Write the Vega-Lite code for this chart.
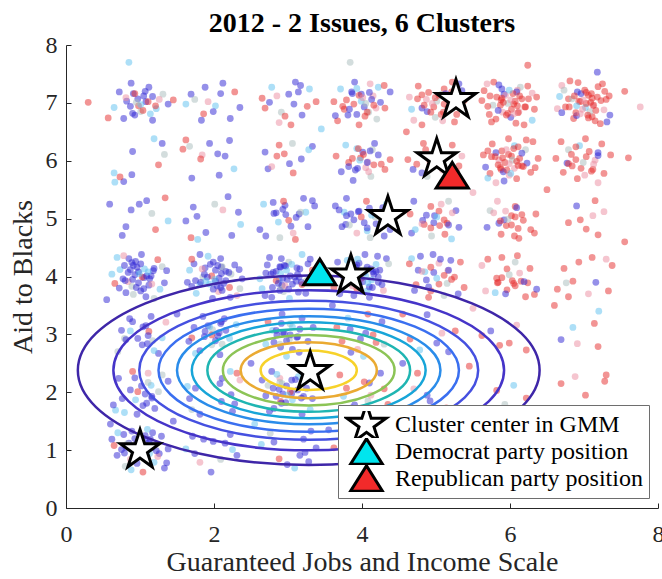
{
"$schema": "https://vega.github.io/schema/vega-lite/v6.json",
"width": 592, "height": 463,
"autosize": "none",
"padding": {"left": 66, "top": 45, "right": 4, "bottom": 71},
"background": "white",
"title": {"text": "2012 - 2 Issues, 6 Clusters", "font": "Liberation Serif", "fontSize": 28, "fontWeight": "bold", "color": "black", "anchor": "middle", "frame": "group", "offset": -5},
"config": {
  "view": {"stroke": null},
  "axis": {"labelFont": "Liberation Serif", "labelFontSize": 24, "labelColor": "#262626", "titleFont": "Liberation Serif", "titleFontSize": 28, "titleFontWeight": "normal", "titleColor": "#262626", "domainColor": "#262626", "tickColor": "#262626", "tickSize": -5, "grid": false, "labelFlush": false, "labelOverlap": false, "labelBound": false},
  "legend": {"symbolStrokeWidth": 3}
},
"encoding": {
  "x": {"field": "x", "type": "quantitative", "scale": {"domain": [0, 8], "nice": false, "zero": false}, "axis": {"values": [0, 2, 4, 6, 8], "title": "Guaranteed Jobs and Income Scale", "labelPadding": 19, "titlePadding": 2}},
  "y": {"field": "y", "type": "quantitative", "scale": {"domain": [0, 8], "nice": false, "zero": false}, "axis": {"values": [0, 1, 2, 3, 4, 5, 6, 7, 8], "title": "Aid to Blacks", "labelPadding": 14, "titlePadding": 8}}
},
"layer": [
{
"data": {"values": [
{"x":1.05,"y":7.12,"c":"B"},{"x":0.82,"y":7.03,"c":"B"},{"x":1.22,"y":6.90,"c":"L"},{"x":0.93,"y":6.79,"c":"B"},{"x":1.31,"y":7.15,"c":"G"},{"x":0.72,"y":7.19,"c":"B"},{"x":1.12,"y":7.27,"c":"B"},{"x":0.98,"y":6.95,"c":"R"},{"x":1.17,"y":6.70,"c":"B"},{"x":0.65,"y":6.92,"c":"L"},{"x":1.08,"y":7.02,"c":"B"},{"x":0.88,"y":7.34,"c":"B"},{"x":1.26,"y":7.06,"c":"P"},{"x":0.78,"y":6.73,"c":"B"},{"x":1.01,"y":6.85,"c":"G"},{"x":1.38,"y":6.98,"c":"B"},{"x":0.91,"y":7.16,"c":"B"},{"x":1.14,"y":6.81,"c":"L"},
{"x":1.69,"y":7.15,"c":"B"},{"x":2.28,"y":7.19,"c":"R"},{"x":1.88,"y":7.27,"c":"B"},{"x":2.02,"y":6.95,"c":"L"},{"x":1.83,"y":6.70,"c":"B"},{"x":2.35,"y":6.92,"c":"B"},{"x":1.92,"y":7.02,"c":"P"},{"x":2.12,"y":7.34,"c":"B"},{"x":1.74,"y":7.06,"c":"G"},{"x":2.22,"y":6.73,"c":"B"},{"x":1.99,"y":6.85,"c":"B"},{"x":1.62,"y":6.98,"c":"L"},{"x":2.09,"y":7.16,"c":"B"},{"x":1.86,"y":6.81,"c":"R"},
{"x":3.17,"y":7.30,"c":"B"},{"x":2.65,"y":7.08,"c":"R"},{"x":3.08,"y":6.98,"c":"B"},{"x":2.88,"y":6.66,"c":"P"},{"x":3.26,"y":6.94,"c":"R"},{"x":2.78,"y":7.27,"c":"L"},{"x":3.01,"y":7.15,"c":"B"},{"x":3.38,"y":7.02,"c":"R"},{"x":2.91,"y":6.84,"c":"G"},{"x":3.14,"y":7.19,"c":"B"},{"x":2.69,"y":6.91,"c":"R"},{"x":3.19,"y":6.79,"c":"B"},{"x":2.85,"y":7.12,"c":"P"},{"x":3.04,"y":6.62,"c":"R"},{"x":2.75,"y":7.01,"c":"B"},{"x":3.29,"y":7.24,"c":"L"},{"x":2.96,"y":6.77,"c":"R"},{"x":3.10,"y":7.36,"c":"B"},
{"x":3.74,"y":6.94,"c":"R"},{"x":4.22,"y":7.27,"c":"L"},{"x":3.99,"y":7.15,"c":"B"},{"x":3.62,"y":7.02,"c":"R"},{"x":4.09,"y":6.84,"c":"G"},{"x":3.86,"y":7.19,"c":"B"},{"x":4.31,"y":6.91,"c":"R"},{"x":3.81,"y":6.79,"c":"B"},{"x":4.15,"y":7.12,"c":"P"},{"x":3.96,"y":6.62,"c":"R"},{"x":4.25,"y":7.01,"c":"B"},{"x":3.71,"y":7.24,"c":"L"},{"x":4.04,"y":6.77,"c":"R"},{"x":3.90,"y":7.36,"c":"B"},{"x":4.20,"y":6.72,"c":"G"},{"x":3.67,"y":6.69,"c":"R"},{"x":4.38,"y":7.19,"c":"B"},{"x":3.76,"y":6.89,"c":"R"},{"x":4.11,"y":7.33,"c":"P"},{"x":3.64,"y":6.78,"c":"B"},{"x":4.30,"y":7.30,"c":"R"},{"x":3.93,"y":7.25,"c":"L"},
{"x":5.16,"y":6.91,"c":"R"},{"x":4.81,"y":7.14,"c":"R"},{"x":5.09,"y":6.69,"c":"P"},{"x":5.21,"y":7.19,"c":"R"},{"x":4.88,"y":6.85,"c":"B"},{"x":5.38,"y":7.04,"c":"R"},{"x":4.99,"y":6.75,"c":"G"},{"x":4.76,"y":7.29,"c":"R"},{"x":5.23,"y":6.96,"c":"R"},{"x":4.64,"y":7.10,"c":"P"},{"x":5.28,"y":6.80,"c":"R"},{"x":5.31,"y":7.33,"c":"B"},{"x":4.81,"y":6.62,"c":"R"},{"x":5.11,"y":7.24,"c":"R"},{"x":4.67,"y":6.89,"c":"L"},{"x":5.22,"y":7.36,"c":"R"},{"x":4.70,"y":6.70,"c":"P"},{"x":4.75,"y":7.07,"c":"R"},{"x":5.10,"y":6.84,"c":"R"},{"x":5.35,"y":7.21,"c":"B"},{"x":5.25,"y":6.67,"c":"R"},{"x":5.08,"y":7.15,"c":"G"},
{"x":6.12,"y":6.85,"c":"P"},{"x":5.62,"y":7.04,"c":"R"},{"x":6.01,"y":6.75,"c":"B"},{"x":6.24,"y":7.29,"c":"R"},{"x":5.77,"y":6.96,"c":"G"},{"x":6.36,"y":7.10,"c":"R"},{"x":5.72,"y":6.80,"c":"R"},{"x":5.69,"y":7.33,"c":"P"},{"x":6.19,"y":6.62,"c":"R"},{"x":5.89,"y":7.24,"c":"B"},{"x":6.33,"y":6.89,"c":"R"},{"x":5.78,"y":7.36,"c":"R"},{"x":6.30,"y":6.70,"c":"L"},{"x":6.25,"y":7.07,"c":"R"},{"x":5.90,"y":6.84,"c":"P"},{"x":5.65,"y":7.21,"c":"R"},{"x":5.75,"y":6.67,"c":"R"},{"x":5.92,"y":7.15,"c":"B"},{"x":5.70,"y":6.94,"c":"R"},{"x":6.14,"y":7.27,"c":"G"},{"x":5.88,"y":7.05,"c":"R"},{"x":5.97,"y":6.82,"c":"R"},{"x":6.10,"y":7.22,"c":"P"},{"x":6.21,"y":6.93,"c":"R"},{"x":5.85,"y":7.31,"c":"B"},{"x":5.81,"y":6.72,"c":"R"},{"x":5.73,"y":7.12,"c":"R"},{"x":6.05,"y":6.98,"c":"R"},{"x":6.30,"y":7.17,"c":"P"},{"x":6.08,"y":6.65,"c":"R"},
{"x":7.23,"y":7.04,"c":"R"},{"x":6.64,"y":6.90,"c":"P"},{"x":7.28,"y":7.20,"c":"R"},{"x":7.31,"y":6.67,"c":"B"},{"x":6.81,"y":7.38,"c":"R"},{"x":7.11,"y":6.76,"c":"R"},{"x":6.67,"y":7.11,"c":"L"},{"x":7.22,"y":6.64,"c":"R"},{"x":6.70,"y":7.30,"c":"P"},{"x":6.75,"y":6.93,"c":"R"},{"x":7.10,"y":7.16,"c":"R"},{"x":7.35,"y":6.79,"c":"B"},{"x":7.25,"y":7.33,"c":"R"},{"x":7.08,"y":6.85,"c":"G"},{"x":7.30,"y":7.06,"c":"R"},{"x":6.86,"y":6.73,"c":"R"},{"x":7.12,"y":6.95,"c":"P"},{"x":7.03,"y":7.18,"c":"R"},{"x":6.90,"y":6.78,"c":"B"},{"x":6.79,"y":7.07,"c":"R"},{"x":7.15,"y":6.69,"c":"R"},{"x":7.19,"y":7.28,"c":"R"},{"x":7.27,"y":6.88,"c":"P"},{"x":6.95,"y":7.02,"c":"R"},{"x":6.70,"y":6.83,"c":"B"},{"x":6.92,"y":7.35,"c":"R"},{"x":7.02,"y":6.92,"c":"L"},{"x":7.34,"y":7.12,"c":"R"},{"x":7.06,"y":6.74,"c":"R"},{"x":6.73,"y":7.22,"c":"G"},
{"x":1.19,"y":6.38,"c":"L"},{"x":0.89,"y":5.76,"c":"B"},{"x":1.33,"y":6.11,"c":"G"},{"x":0.78,"y":5.64,"c":"B"},{"x":1.30,"y":6.30,"c":"B"},{"x":1.25,"y":5.93,"c":"R"},{"x":0.90,"y":6.16,"c":"B"},{"x":0.65,"y":5.79,"c":"L"},
{"x":1.70,"y":5.70,"c":"B"},{"x":2.07,"y":5.75,"c":"B"},{"x":1.84,"y":6.10,"c":"P"},{"x":2.21,"y":6.35,"c":"B"},{"x":1.67,"y":6.25,"c":"G"},{"x":2.15,"y":6.08,"c":"B"},{"x":1.94,"y":6.30,"c":"B"},{"x":2.27,"y":5.86,"c":"L"},{"x":2.05,"y":6.12,"c":"B"},{"x":1.82,"y":6.03,"c":"R"},
{"x":3.33,"y":6.25,"c":"B"},{"x":2.85,"y":6.08,"c":"R"},{"x":3.06,"y":6.30,"c":"G"},{"x":2.73,"y":5.86,"c":"B"},{"x":2.95,"y":6.12,"c":"R"},{"x":3.18,"y":6.03,"c":"B"},{"x":2.78,"y":5.90,"c":"P"},{"x":3.07,"y":5.79,"c":"R"},{"x":2.69,"y":6.15,"c":"B"},{"x":3.28,"y":6.19,"c":"L"},{"x":2.88,"y":6.27,"c":"R"},{"x":3.02,"y":5.95,"c":"B"},
{"x":4.05,"y":5.88,"c":"P"},{"x":3.82,"y":5.97,"c":"R"},{"x":4.22,"y":6.10,"c":"B"},{"x":3.93,"y":6.21,"c":"L"},{"x":4.31,"y":5.85,"c":"R"},{"x":3.72,"y":5.81,"c":"B"},{"x":4.12,"y":5.73,"c":"G"},{"x":3.98,"y":6.05,"c":"R"},{"x":4.17,"y":6.30,"c":"B"},{"x":3.65,"y":6.08,"c":"R"},{"x":4.08,"y":5.98,"c":"P"},{"x":3.88,"y":5.66,"c":"B"},{"x":4.26,"y":5.94,"c":"R"},{"x":3.78,"y":6.27,"c":"L"},{"x":4.01,"y":6.15,"c":"B"},{"x":4.38,"y":6.02,"c":"R"},{"x":3.91,"y":5.84,"c":"B"},{"x":4.14,"y":6.19,"c":"G"},
{"x":4.69,"y":5.85,"c":"B"},{"x":5.28,"y":5.81,"c":"R"},{"x":4.88,"y":5.73,"c":"G"},{"x":5.02,"y":6.05,"c":"R"},{"x":4.83,"y":6.30,"c":"R"},{"x":5.35,"y":6.08,"c":"P"},{"x":4.92,"y":5.98,"c":"R"},{"x":5.12,"y":5.66,"c":"B"},{"x":4.74,"y":5.94,"c":"R"},{"x":5.22,"y":6.27,"c":"R"},{"x":4.99,"y":6.15,"c":"L"},{"x":4.62,"y":6.02,"c":"R"},{"x":5.09,"y":5.84,"c":"P"},{"x":4.86,"y":6.19,"c":"R"},{"x":5.31,"y":5.91,"c":"R"},{"x":4.81,"y":5.79,"c":"B"},
{"x":5.70,"y":6.17,"c":"R"},{"x":5.92,"y":5.65,"c":"B"},{"x":6.02,"y":6.08,"c":"R"},{"x":6.34,"y":5.88,"c":"R"},{"x":6.06,"y":6.26,"c":"L"},{"x":5.73,"y":5.78,"c":"R"},{"x":5.85,"y":6.01,"c":"P"},{"x":5.98,"y":6.38,"c":"R"},{"x":6.16,"y":5.91,"c":"R"},{"x":5.81,"y":6.14,"c":"B"},{"x":6.09,"y":5.69,"c":"R"},{"x":6.21,"y":6.19,"c":"G"},{"x":5.88,"y":5.85,"c":"R"},{"x":6.38,"y":6.04,"c":"R"},{"x":5.99,"y":5.75,"c":"P"},{"x":5.76,"y":6.29,"c":"R"},{"x":6.23,"y":5.96,"c":"B"},{"x":5.64,"y":6.10,"c":"R"},{"x":6.28,"y":5.80,"c":"R"},{"x":6.31,"y":6.33,"c":"R"},{"x":5.81,"y":5.62,"c":"P"},{"x":6.11,"y":6.24,"c":"R"},{"x":5.67,"y":5.89,"c":"B"},{"x":6.22,"y":6.36,"c":"R"},{"x":5.70,"y":5.70,"c":"L"},{"x":5.75,"y":6.07,"c":"R"},
{"x":6.94,"y":6.26,"c":"L"},{"x":7.27,"y":5.78,"c":"R"},{"x":7.15,"y":6.01,"c":"P"},{"x":7.02,"y":6.38,"c":"R"},{"x":6.84,"y":5.91,"c":"R"},{"x":7.19,"y":6.14,"c":"B"},{"x":6.91,"y":5.69,"c":"R"},{"x":6.79,"y":6.19,"c":"G"},{"x":7.12,"y":5.85,"c":"R"},{"x":6.62,"y":6.04,"c":"R"},{"x":7.01,"y":5.75,"c":"P"},{"x":7.24,"y":6.29,"c":"R"},{"x":6.77,"y":5.96,"c":"B"},{"x":7.36,"y":6.10,"c":"R"},{"x":6.72,"y":5.80,"c":"R"},{"x":6.69,"y":6.33,"c":"R"},{"x":7.19,"y":5.62,"c":"P"},{"x":6.89,"y":6.24,"c":"R"},
{"x":1.16,"y":5.09,"c":"G"},{"x":0.81,"y":4.86,"c":"B"},{"x":1.09,"y":5.31,"c":"B"},{"x":1.21,"y":4.81,"c":"R"},{"x":0.88,"y":5.15,"c":"B"},{"x":1.38,"y":4.96,"c":"L"},{"x":0.99,"y":5.25,"c":"B"},{"x":0.76,"y":4.71,"c":"B"},
{"x":2.12,"y":5.15,"c":"P"},{"x":1.62,"y":4.96,"c":"B"},{"x":2.01,"y":5.25,"c":"G"},{"x":2.24,"y":4.71,"c":"B"},{"x":1.77,"y":5.04,"c":"B"},{"x":2.36,"y":4.90,"c":"L"},{"x":1.72,"y":5.20,"c":"B"},{"x":1.69,"y":4.67,"c":"R"},{"x":2.19,"y":5.38,"c":"B"},{"x":1.89,"y":4.76,"c":"B"},{"x":2.33,"y":5.11,"c":"B"},{"x":1.78,"y":4.64,"c":"L"},
{"x":2.96,"y":5.23,"c":"B"},{"x":3.10,"y":4.64,"c":"R"},{"x":2.80,"y":5.28,"c":"B"},{"x":3.33,"y":5.31,"c":"B"},{"x":2.62,"y":4.81,"c":"B"},{"x":3.24,"y":5.11,"c":"L"},{"x":2.89,"y":4.67,"c":"G"},{"x":3.36,"y":5.22,"c":"B"},{"x":2.70,"y":4.70,"c":"B"},{"x":3.07,"y":4.75,"c":"P"},{"x":2.84,"y":5.10,"c":"B"},{"x":3.21,"y":5.35,"c":"B"},{"x":2.67,"y":5.25,"c":"L"},{"x":3.15,"y":5.08,"c":"B"},{"x":2.94,"y":5.30,"c":"R"},{"x":3.27,"y":4.86,"c":"B"},
{"x":4.38,"y":4.81,"c":"B"},{"x":3.76,"y":5.11,"c":"L"},{"x":4.11,"y":4.67,"c":"G"},{"x":3.64,"y":5.22,"c":"B"},{"x":4.30,"y":4.70,"c":"B"},{"x":3.93,"y":4.75,"c":"P"},{"x":4.16,"y":5.10,"c":"B"},{"x":3.79,"y":5.35,"c":"B"},{"x":4.33,"y":5.25,"c":"L"},{"x":3.85,"y":5.08,"c":"B"},{"x":4.06,"y":5.30,"c":"R"},{"x":3.73,"y":4.86,"c":"B"},{"x":3.95,"y":5.12,"c":"B"},{"x":4.18,"y":5.03,"c":"G"},{"x":3.78,"y":4.90,"c":"B"},{"x":4.07,"y":4.79,"c":"L"},{"x":3.69,"y":5.15,"c":"B"},{"x":4.28,"y":5.19,"c":"B"},
{"x":4.70,"y":5.30,"c":"B"},{"x":5.07,"y":5.25,"c":"P"},{"x":4.84,"y":4.90,"c":"R"},{"x":5.21,"y":4.65,"c":"L"},{"x":4.67,"y":4.75,"c":"B"},{"x":5.15,"y":4.92,"c":"R"},{"x":4.94,"y":4.70,"c":"G"},{"x":5.27,"y":5.14,"c":"B"},{"x":5.05,"y":4.88,"c":"R"},{"x":4.82,"y":4.97,"c":"B"},{"x":5.22,"y":5.10,"c":"P"},{"x":4.93,"y":5.21,"c":"R"},{"x":5.31,"y":4.85,"c":"B"},{"x":4.72,"y":4.81,"c":"L"},{"x":5.12,"y":4.73,"c":"R"},{"x":4.98,"y":5.05,"c":"B"},{"x":5.17,"y":5.30,"c":"G"},{"x":4.65,"y":5.08,"c":"R"},
{"x":6.33,"y":4.75,"c":"R"},{"x":5.85,"y":4.92,"c":"B"},{"x":6.06,"y":4.70,"c":"R"},{"x":5.73,"y":5.14,"c":"G"},{"x":5.95,"y":4.88,"c":"R"},{"x":6.18,"y":4.97,"c":"R"},{"x":5.78,"y":5.10,"c":"P"},{"x":6.07,"y":5.21,"c":"R"},{"x":5.69,"y":4.85,"c":"B"},{"x":6.28,"y":4.81,"c":"R"},{"x":5.88,"y":4.73,"c":"R"},{"x":6.02,"y":5.05,"c":"R"},{"x":5.83,"y":5.30,"c":"P"},{"x":6.35,"y":5.08,"c":"R"},{"x":5.92,"y":4.98,"c":"B"},{"x":6.12,"y":4.66,"c":"R"},
{"x":7.12,"y":5.05,"c":"P"},{"x":7.03,"y":4.82,"c":"R"},{"x":6.90,"y":5.22,"c":"B"},{"x":6.79,"y":4.93,"c":"R"},{"x":7.15,"y":5.31,"c":"R"},{"x":7.19,"y":4.72,"c":"R"},{"x":7.27,"y":5.12,"c":"P"},{"x":6.95,"y":4.98,"c":"R"},
{"x":0.85,"y":4.31,"c":"B"},{"x":0.81,"y":3.72,"c":"B"},{"x":0.73,"y":4.12,"c":"L"},{"x":1.05,"y":3.98,"c":"B"},{"x":1.30,"y":4.17,"c":"G"},{"x":1.08,"y":3.65,"c":"B"},{"x":0.98,"y":4.08,"c":"B"},{"x":0.66,"y":3.88,"c":"R"},{"x":0.94,"y":4.26,"c":"B"},{"x":1.27,"y":3.78,"c":"L"},{"x":1.15,"y":4.01,"c":"B"},{"x":1.02,"y":4.38,"c":"B"},{"x":0.84,"y":3.91,"c":"P"},{"x":1.19,"y":4.14,"c":"B"},{"x":0.91,"y":3.69,"c":"G"},{"x":0.79,"y":4.19,"c":"B"},{"x":1.12,"y":3.85,"c":"B"},{"x":0.62,"y":4.04,"c":"L"},{"x":1.01,"y":3.75,"c":"B"},{"x":1.24,"y":4.29,"c":"R"},{"x":0.77,"y":3.96,"c":"B"},{"x":1.36,"y":4.10,"c":"B"},{"x":0.72,"y":3.80,"c":"B"},{"x":0.69,"y":4.33,"c":"L"},{"x":1.19,"y":3.62,"c":"G"},{"x":0.89,"y":4.24,"c":"B"},{"x":1.33,"y":3.89,"c":"B"},{"x":0.78,"y":4.36,"c":"P"},
{"x":1.70,"y":3.83,"c":"B"},{"x":1.92,"y":4.35,"c":"L"},{"x":2.02,"y":3.92,"c":"B"},{"x":2.34,"y":4.12,"c":"B"},{"x":2.06,"y":3.74,"c":"P"},{"x":1.73,"y":4.22,"c":"B"},{"x":1.85,"y":3.99,"c":"G"},{"x":1.98,"y":3.62,"c":"B"},{"x":2.16,"y":4.09,"c":"B"},{"x":1.81,"y":3.86,"c":"L"},{"x":2.09,"y":4.31,"c":"B"},{"x":2.21,"y":3.81,"c":"R"},{"x":1.88,"y":4.15,"c":"B"},{"x":2.38,"y":3.96,"c":"B"},{"x":1.99,"y":4.25,"c":"B"},{"x":1.76,"y":3.71,"c":"L"},{"x":2.23,"y":4.04,"c":"G"},{"x":1.64,"y":3.90,"c":"B"},{"x":2.28,"y":4.20,"c":"B"},{"x":2.31,"y":3.67,"c":"P"},{"x":1.81,"y":4.38,"c":"B"},{"x":2.11,"y":3.76,"c":"B"},{"x":1.67,"y":4.11,"c":"L"},{"x":2.22,"y":3.64,"c":"B"},{"x":1.70,"y":4.30,"c":"R"},{"x":1.75,"y":3.93,"c":"B"},{"x":2.10,"y":4.16,"c":"B"},{"x":2.35,"y":3.79,"c":"G"},
{"x":2.94,"y":3.74,"c":"G"},{"x":3.27,"y":4.22,"c":"B"},{"x":3.15,"y":3.99,"c":"B"},{"x":3.02,"y":3.62,"c":"L"},{"x":2.84,"y":4.09,"c":"B"},{"x":3.19,"y":3.86,"c":"R"},{"x":2.91,"y":4.31,"c":"B"},{"x":2.79,"y":3.81,"c":"B"},{"x":3.12,"y":4.15,"c":"B"},{"x":2.62,"y":3.96,"c":"L"},{"x":3.01,"y":4.25,"c":"G"},{"x":3.24,"y":3.71,"c":"B"},{"x":2.77,"y":4.04,"c":"B"},{"x":3.36,"y":3.90,"c":"P"},{"x":2.72,"y":4.20,"c":"B"},{"x":2.69,"y":3.67,"c":"B"},{"x":3.19,"y":4.38,"c":"L"},{"x":2.89,"y":3.76,"c":"B"},{"x":3.33,"y":4.11,"c":"R"},{"x":2.78,"y":3.64,"c":"B"},{"x":3.30,"y":4.30,"c":"B"},{"x":3.25,"y":3.93,"c":"G"},{"x":2.90,"y":4.16,"c":"B"},{"x":2.65,"y":3.79,"c":"L"},{"x":2.75,"y":4.33,"c":"B"},{"x":2.92,"y":3.85,"c":"B"},{"x":2.70,"y":4.06,"c":"B"},{"x":3.14,"y":3.73,"c":"B"},{"x":2.88,"y":3.95,"c":"L"},{"x":2.97,"y":4.18,"c":"B"},
{"x":3.91,"y":4.16,"c":"B"},{"x":4.14,"y":3.81,"c":"B"},{"x":3.69,"y":4.09,"c":"B"},{"x":4.19,"y":4.21,"c":"L"},{"x":3.85,"y":3.88,"c":"G"},{"x":4.04,"y":4.38,"c":"B"},{"x":3.75,"y":3.99,"c":"B"},{"x":4.29,"y":3.76,"c":"P"},{"x":3.96,"y":4.23,"c":"B"},{"x":4.10,"y":3.64,"c":"B"},{"x":3.80,"y":4.28,"c":"L"},{"x":4.33,"y":4.31,"c":"B"},{"x":3.62,"y":3.81,"c":"R"},{"x":4.24,"y":4.11,"c":"B"},{"x":3.89,"y":3.67,"c":"B"},{"x":4.36,"y":4.22,"c":"G"},{"x":3.70,"y":3.70,"c":"B"},{"x":4.07,"y":3.75,"c":"L"},{"x":3.84,"y":4.10,"c":"B"},{"x":4.21,"y":4.35,"c":"B"},{"x":3.67,"y":4.25,"c":"B"},{"x":4.15,"y":4.08,"c":"B"},{"x":3.94,"y":4.30,"c":"L"},{"x":4.27,"y":3.86,"c":"B"},{"x":4.05,"y":4.12,"c":"G"},{"x":3.82,"y":4.03,"c":"B"},{"x":4.22,"y":3.90,"c":"B"},{"x":3.93,"y":3.79,"c":"R"},
{"x":5.15,"y":3.88,"c":"G"},{"x":4.96,"y":4.38,"c":"B"},{"x":5.25,"y":3.99,"c":"R"},{"x":4.71,"y":3.76,"c":"B"},{"x":5.04,"y":4.23,"c":"P"},{"x":4.90,"y":3.64,"c":"R"},{"x":5.20,"y":4.28,"c":"B"},{"x":4.67,"y":4.31,"c":"L"},{"x":5.38,"y":3.81,"c":"R"},{"x":4.76,"y":4.11,"c":"B"},{"x":5.11,"y":3.67,"c":"G"},{"x":4.64,"y":4.22,"c":"R"},{"x":5.30,"y":3.70,"c":"B"},{"x":4.93,"y":3.75,"c":"R"},{"x":5.16,"y":4.10,"c":"P"},{"x":4.79,"y":4.35,"c":"B"},{"x":5.33,"y":4.25,"c":"R"},{"x":4.85,"y":4.08,"c":"L"},{"x":5.06,"y":4.30,"c":"B"},{"x":4.73,"y":3.86,"c":"R"},
{"x":5.96,"y":3.77,"c":"R"},{"x":6.10,"y":4.36,"c":"R"},{"x":5.80,"y":3.72,"c":"L"},{"x":6.33,"y":3.69,"c":"R"},{"x":5.62,"y":4.19,"c":"P"},{"x":6.24,"y":3.89,"c":"R"},{"x":5.89,"y":4.33,"c":"R"},{"x":6.36,"y":3.78,"c":"B"},{"x":5.70,"y":4.30,"c":"R"},{"x":6.07,"y":4.25,"c":"G"},{"x":5.84,"y":3.90,"c":"R"},{"x":6.21,"y":3.65,"c":"R"},{"x":5.67,"y":3.75,"c":"P"},{"x":6.15,"y":3.92,"c":"R"},{"x":5.94,"y":3.70,"c":"B"},{"x":6.27,"y":4.14,"c":"R"},{"x":6.05,"y":3.88,"c":"R"},{"x":5.82,"y":3.97,"c":"R"},
{"x":7.38,"y":4.19,"c":"R"},{"x":6.76,"y":3.89,"c":"G"},{"x":7.11,"y":4.33,"c":"R"},{"x":6.64,"y":3.78,"c":"R"},{"x":7.30,"y":4.30,"c":"P"},{"x":6.93,"y":4.25,"c":"R"},{"x":7.16,"y":3.90,"c":"B"},{"x":6.79,"y":3.65,"c":"R"},{"x":7.33,"y":3.75,"c":"R"},{"x":6.85,"y":3.92,"c":"R"},{"x":7.06,"y":3.70,"c":"P"},{"x":6.73,"y":4.14,"c":"R"},
{"x":0.70,"y":2.70,"c":"G"},{"x":0.75,"y":3.07,"c":"B"},{"x":1.10,"y":2.84,"c":"B"},{"x":1.35,"y":3.21,"c":"P"},{"x":1.25,"y":2.67,"c":"B"},{"x":1.08,"y":3.15,"c":"B"},{"x":1.30,"y":2.94,"c":"L"},{"x":0.86,"y":3.27,"c":"B"},{"x":1.12,"y":3.05,"c":"R"},{"x":1.03,"y":2.82,"c":"B"},{"x":0.90,"y":3.22,"c":"B"},{"x":0.79,"y":2.93,"c":"G"},{"x":1.15,"y":3.31,"c":"B"},{"x":1.19,"y":2.72,"c":"L"},
{"x":1.75,"y":2.67,"c":"L"},{"x":1.92,"y":3.15,"c":"B"},{"x":1.70,"y":2.94,"c":"R"},{"x":2.14,"y":3.27,"c":"B"},{"x":1.88,"y":3.05,"c":"B"},{"x":1.97,"y":2.82,"c":"G"},{"x":2.10,"y":3.22,"c":"B"},{"x":2.21,"y":2.93,"c":"L"},{"x":1.85,"y":3.31,"c":"B"},{"x":1.81,"y":2.72,"c":"B"},{"x":1.73,"y":3.12,"c":"B"},{"x":2.05,"y":2.98,"c":"B"},{"x":2.30,"y":3.17,"c":"L"},{"x":2.08,"y":2.65,"c":"B"},{"x":1.98,"y":3.08,"c":"G"},{"x":1.66,"y":2.88,"c":"B"},
{"x":3.12,"y":2.95,"c":"B"},{"x":3.03,"y":3.18,"c":"G"},{"x":2.90,"y":2.78,"c":"B"},{"x":2.79,"y":3.07,"c":"L"},{"x":3.15,"y":2.69,"c":"B"},{"x":3.19,"y":3.28,"c":"B"},{"x":3.27,"y":2.88,"c":"B"},{"x":2.95,"y":3.02,"c":"B"},{"x":2.70,"y":2.83,"c":"L"},{"x":2.92,"y":3.35,"c":"B"},{"x":3.02,"y":2.92,"c":"G"},{"x":3.34,"y":3.12,"c":"B"},{"x":3.06,"y":2.74,"c":"B"},{"x":2.73,"y":3.22,"c":"R"},{"x":2.85,"y":2.99,"c":"B"},{"x":2.98,"y":2.62,"c":"L"},{"x":3.16,"y":3.09,"c":"B"},{"x":2.81,"y":2.86,"c":"B"},
{"x":3.85,"y":2.69,"c":"B"},{"x":3.81,"y":3.28,"c":"L"},{"x":3.73,"y":2.88,"c":"R"},{"x":4.05,"y":3.02,"c":"B"},{"x":4.30,"y":2.83,"c":"G"},{"x":4.08,"y":3.35,"c":"R"},{"x":3.98,"y":2.92,"c":"B"},{"x":3.66,"y":3.12,"c":"R"},{"x":3.94,"y":2.74,"c":"P"},{"x":4.27,"y":3.22,"c":"B"},{"x":4.15,"y":2.99,"c":"R"},{"x":4.02,"y":2.62,"c":"L"},{"x":3.84,"y":3.09,"c":"B"},{"x":4.19,"y":2.86,"c":"R"},
{"x":5.17,"y":2.70,"c":"B"},{"x":4.65,"y":2.92,"c":"R"},{"x":5.08,"y":3.02,"c":"P"},{"x":4.88,"y":3.34,"c":"B"},{"x":5.26,"y":3.06,"c":"R"},{"x":4.78,"y":2.73,"c":"L"},{"x":5.01,"y":2.85,"c":"B"},
{"x":5.74,"y":3.06,"c":"B"},{"x":6.22,"y":2.73,"c":"R"},{"x":5.99,"y":2.85,"c":"R"},{"x":5.62,"y":2.98,"c":"R"},{"x":6.09,"y":3.16,"c":"P"},{"x":5.86,"y":2.81,"c":"R"},
{"x":6.91,"y":2.84,"c":"P"},{"x":7.14,"y":3.19,"c":"R"},{"x":6.69,"y":2.91,"c":"B"},{"x":7.19,"y":2.79,"c":"R"},{"x":6.85,"y":3.12,"c":"L"},
{"x":1.15,"y":2.12,"c":"L"},{"x":0.96,"y":1.62,"c":"B"},{"x":1.25,"y":2.01,"c":"G"},{"x":0.71,"y":2.24,"c":"B"},{"x":1.04,"y":1.77,"c":"B"},{"x":0.90,"y":2.36,"c":"R"},{"x":1.20,"y":1.72,"c":"B"},{"x":0.67,"y":1.69,"c":"L"},{"x":1.38,"y":2.19,"c":"B"},{"x":0.76,"y":1.89,"c":"B"},{"x":1.11,"y":2.33,"c":"P"},{"x":0.64,"y":1.78,"c":"B"},{"x":1.30,"y":2.30,"c":"G"},{"x":0.93,"y":2.25,"c":"B"},{"x":1.16,"y":1.90,"c":"B"},{"x":0.79,"y":1.65,"c":"L"},
{"x":2.23,"y":1.96,"c":"B"},{"x":1.64,"y":2.10,"c":"L"},{"x":2.28,"y":1.80,"c":"B"},{"x":2.31,"y":2.33,"c":"R"},{"x":1.81,"y":1.62,"c":"B"},{"x":2.11,"y":2.24,"c":"B"},{"x":1.67,"y":1.89,"c":"B"},{"x":2.22,"y":2.36,"c":"L"},{"x":1.70,"y":1.70,"c":"G"},{"x":1.75,"y":2.07,"c":"B"},{"x":2.10,"y":1.84,"c":"B"},{"x":2.35,"y":2.21,"c":"P"},{"x":2.25,"y":1.67,"c":"B"},{"x":2.08,"y":2.15,"c":"B"},
{"x":3.19,"y":1.62,"c":"B"},{"x":2.89,"y":2.24,"c":"P"},{"x":3.33,"y":1.89,"c":"B"},{"x":2.78,"y":2.36,"c":"B"},{"x":3.30,"y":1.70,"c":"L"},{"x":3.25,"y":2.07,"c":"B"},{"x":2.90,"y":1.84,"c":"R"},{"x":2.65,"y":2.21,"c":"B"},{"x":2.75,"y":1.67,"c":"B"},{"x":2.92,"y":2.15,"c":"G"},{"x":2.70,"y":1.94,"c":"B"},{"x":3.14,"y":2.27,"c":"L"},{"x":2.88,"y":2.05,"c":"B"},{"x":2.97,"y":1.82,"c":"B"},{"x":3.10,"y":2.22,"c":"B"},{"x":3.21,"y":1.93,"c":"B"},{"x":2.85,"y":2.31,"c":"L"},{"x":2.81,"y":1.72,"c":"B"},{"x":2.73,"y":2.12,"c":"G"},{"x":3.05,"y":1.98,"c":"B"},
{"x":3.70,"y":2.30,"c":"R"},{"x":3.75,"y":1.93,"c":"L"},{"x":4.10,"y":2.16,"c":"B"},{"x":4.35,"y":1.79,"c":"R"},{"x":4.25,"y":2.33,"c":"B"},{"x":4.08,"y":1.85,"c":"G"},{"x":4.30,"y":2.06,"c":"R"},{"x":3.86,"y":1.73,"c":"B"},{"x":4.12,"y":1.95,"c":"P"},{"x":4.03,"y":2.18,"c":"R"},{"x":3.90,"y":1.78,"c":"B"},{"x":3.79,"y":2.07,"c":"R"},
{"x":4.75,"y":2.33,"c":"R"},{"x":4.92,"y":1.85,"c":"B"},{"x":4.70,"y":2.06,"c":"P"},{"x":5.14,"y":1.73,"c":"R"},{"x":4.88,"y":1.95,"c":"B"},
{"x":6.05,"y":2.12,"c":"L"},{"x":5.82,"y":2.03,"c":"R"},{"x":6.22,"y":1.90,"c":"R"},{"x":5.93,"y":1.79,"c":"G"},
{"x":6.69,"y":2.15,"c":"R"},{"x":7.28,"y":2.19,"c":"R"},{"x":6.88,"y":2.27,"c":"P"},{"x":7.02,"y":1.95,"c":"R"},
{"x":1.17,"y":1.30,"c":"B"},{"x":0.65,"y":1.08,"c":"R"},{"x":1.08,"y":0.98,"c":"B"},{"x":0.88,"y":0.66,"c":"L"},{"x":1.26,"y":0.94,"c":"B"},{"x":0.78,"y":1.27,"c":"B"},{"x":1.01,"y":1.15,"c":"P"},{"x":1.38,"y":1.02,"c":"B"},{"x":0.91,"y":0.84,"c":"G"},{"x":1.14,"y":1.19,"c":"B"},{"x":0.69,"y":0.91,"c":"B"},{"x":1.19,"y":0.79,"c":"L"},{"x":0.85,"y":1.12,"c":"B"},{"x":1.04,"y":0.62,"c":"R"},{"x":0.75,"y":1.01,"c":"B"},{"x":1.29,"y":1.24,"c":"B"},{"x":0.96,"y":0.77,"c":"B"},{"x":1.10,"y":1.36,"c":"L"},{"x":0.80,"y":0.72,"c":"G"},{"x":1.33,"y":0.69,"c":"B"},{"x":0.62,"y":1.19,"c":"B"},{"x":1.24,"y":0.89,"c":"P"},{"x":0.89,"y":1.33,"c":"B"},{"x":1.36,"y":0.78,"c":"B"},{"x":0.70,"y":1.30,"c":"L"},{"x":1.07,"y":1.25,"c":"B"},
{"x":1.74,"y":0.94,"c":"B"},{"x":2.22,"y":1.27,"c":"B"},{"x":1.99,"y":1.15,"c":"B"},{"x":1.62,"y":1.02,"c":"L"},{"x":2.09,"y":0.84,"c":"G"},{"x":1.86,"y":1.19,"c":"B"},{"x":2.31,"y":0.91,"c":"B"},{"x":1.81,"y":0.79,"c":"P"},{"x":2.15,"y":1.12,"c":"B"},{"x":1.96,"y":0.62,"c":"B"},{"x":2.25,"y":1.01,"c":"L"},{"x":1.71,"y":1.24,"c":"B"},
{"x":3.16,"y":0.91,"c":"B"},{"x":2.81,"y":1.14,"c":"B"},{"x":3.09,"y":0.69,"c":"L"},{"x":3.21,"y":1.19,"c":"B"},{"x":2.88,"y":0.85,"c":"R"},{"x":3.38,"y":1.04,"c":"B"},{"x":2.99,"y":0.75,"c":"B"},{"x":2.76,"y":1.29,"c":"G"},{"x":3.23,"y":0.96,"c":"B"},{"x":2.64,"y":1.10,"c":"L"},{"x":3.28,"y":0.80,"c":"B"},{"x":3.31,"y":1.33,"c":"B"},
{"x":4.12,"y":0.85,"c":"B"},{"x":3.62,"y":1.04,"c":"R"},{"x":4.01,"y":0.75,"c":"L"},{"x":4.24,"y":1.29,"c":"B"},{"x":3.77,"y":0.96,"c":"R"},{"x":4.36,"y":1.10,"c":"B"},{"x":3.72,"y":0.80,"c":"B"},
{"x":5.23,"y":0.96,"c":"R"},{"x":4.64,"y":1.10,"c":"B"},{"x":5.28,"y":0.80,"c":"P"},{"x":6.19,"y":1.38,"c":"R"},{"x":5.89,"y":0.76,"c":"R"},{"x":6.33,"y":1.11,"c":"B"},{"x":6.67,"y":0.70,"c":"R"},{"x":7.07,"y":0.75,"c":"R"},{"x":7.10,"y":1.16,"c":"P"},
{"x":0.30,"y":7.01,"c":"R"},{"x":0.57,"y":6.74,"c":"R"},{"x":0.85,"y":7.70,"c":"L"},{"x":1.45,"y":7.05,"c":"R"},{"x":1.62,"y":6.36,"c":"R"},{"x":1.58,"y":6.20,"c":"R"},{"x":0.66,"y":5.63,"c":"L"},{"x":0.73,"y":5.72,"c":"R"},{"x":1.34,"y":5.36,"c":"R"},{"x":0.59,"y":5.25,"c":"B"},{"x":7.76,"y":6.93,"c":"P"},{"x":7.18,"y":7.53,"c":"B"},{"x":6.24,"y":7.65,"c":"R"},{"x":3.84,"y":7.70,"c":"G"},{"x":3.45,"y":6.55,"c":"L"},{"x":4.60,"y":6.50,"c":"R"},{"x":5.50,"y":5.45,"c":"P"},{"x":6.50,"y":5.50,"c":"R"},{"x":7.30,"y":2.30,"c":"R"},{"x":6.60,"y":3.50,"c":"R"},{"x":7.20,"y":3.40,"c":"L"},{"x":0.55,"y":3.60,"c":"B"},{"x":1.50,"y":3.35,"c":"B"},{"x":2.50,"y":2.50,"c":"B"},{"x":1.45,"y":1.50,"c":"B"},{"x":0.60,"y":1.45,"c":"B"},{"x":2.55,"y":1.45,"c":"L"},{"x":3.55,"y":1.35,"c":"B"},{"x":3.60,"y":3.50,"c":"B"},{"x":4.55,"y":3.35,"c":"R"},{"x":4.55,"y":2.50,"c":"B"},{"x":5.45,"y":2.45,"c":"R"},{"x":5.50,"y":3.45,"c":"P"},{"x":7.55,"y":7.20,"c":"R"},{"x":7.60,"y":6.05,"c":"R"},{"x":7.55,"y":4.60,"c":"R"},
{"x":0.97,"y":7.07,"c":"B"},{"x":1.11,"y":7.02,"c":"R"},{"x":0.87,"y":6.94,"c":"B"},{"x":1.04,"y":6.87,"c":"R"},{"x":0.81,"y":7.09,"c":"P"},{"x":1.17,"y":7.11,"c":"B"},{"x":0.93,"y":7.16,"c":"R"},{"x":1.01,"y":6.97,"c":"L"},{"x":0.90,"y":6.82,"c":"B"},{"x":1.21,"y":6.95,"c":"R"},{"x":0.95,"y":7.01,"c":"G"},{"x":1.07,"y":7.20,"c":"B"},
{"x":4.03,"y":6.93,"c":"B"},{"x":3.89,"y":6.98,"c":"R"},{"x":4.13,"y":7.06,"c":"B"},{"x":3.96,"y":7.13,"c":"R"},{"x":4.19,"y":6.91,"c":"P"},{"x":3.83,"y":6.89,"c":"B"},{"x":4.07,"y":6.84,"c":"R"},{"x":3.99,"y":7.03,"c":"L"},{"x":4.10,"y":7.18,"c":"B"},{"x":3.79,"y":7.05,"c":"R"},{"x":4.05,"y":6.99,"c":"G"},{"x":3.93,"y":6.80,"c":"B"},{"x":4.16,"y":6.96,"c":"R"},{"x":3.87,"y":7.16,"c":"B"},{"x":4.01,"y":7.09,"c":"P"},
{"x":4.97,"y":6.93,"c":"R"},{"x":5.11,"y":6.98,"c":"R"},{"x":4.87,"y":7.06,"c":"P"},{"x":5.04,"y":7.13,"c":"R"},{"x":4.81,"y":6.91,"c":"B"},{"x":5.17,"y":6.89,"c":"R"},{"x":4.93,"y":6.84,"c":"R"},{"x":5.01,"y":7.03,"c":"G"},{"x":4.90,"y":7.18,"c":"R"},{"x":5.21,"y":7.05,"c":"R"},{"x":4.95,"y":6.99,"c":"P"},{"x":5.07,"y":6.80,"c":"R"},{"x":4.84,"y":6.96,"c":"R"},{"x":5.13,"y":7.16,"c":"B"},{"x":4.99,"y":7.09,"c":"R"},
{"x":6.07,"y":7.03,"c":"R"},{"x":6.02,"y":6.89,"c":"R"},{"x":5.94,"y":7.13,"c":"P"},{"x":5.87,"y":6.96,"c":"R"},{"x":6.09,"y":7.19,"c":"B"},{"x":6.11,"y":6.83,"c":"R"},{"x":6.16,"y":7.07,"c":"R"},{"x":5.97,"y":6.99,"c":"G"},{"x":5.82,"y":7.10,"c":"R"},{"x":5.95,"y":6.79,"c":"R"},{"x":6.01,"y":7.05,"c":"P"},{"x":6.20,"y":6.93,"c":"R"},{"x":6.04,"y":7.16,"c":"R"},{"x":5.84,"y":6.87,"c":"B"},{"x":5.91,"y":7.01,"c":"R"},{"x":5.99,"y":7.22,"c":"L"},{"x":6.10,"y":6.95,"c":"R"},{"x":5.89,"y":7.08,"c":"R"},{"x":6.05,"y":6.81,"c":"P"},{"x":6.13,"y":7.12,"c":"R"},
{"x":6.93,"y":7.03,"c":"R"},{"x":6.98,"y":6.89,"c":"P"},{"x":7.06,"y":7.13,"c":"R"},{"x":7.13,"y":6.96,"c":"R"},{"x":6.91,"y":7.19,"c":"B"},{"x":6.89,"y":6.83,"c":"R"},{"x":6.84,"y":7.07,"c":"G"},{"x":7.03,"y":6.99,"c":"R"},{"x":7.18,"y":7.10,"c":"R"},{"x":7.05,"y":6.79,"c":"R"},{"x":6.99,"y":7.05,"c":"P"},{"x":6.80,"y":6.93,"c":"R"},{"x":6.96,"y":7.16,"c":"B"},{"x":7.16,"y":6.87,"c":"R"},{"x":7.09,"y":7.01,"c":"R"},{"x":7.01,"y":7.22,"c":"R"},{"x":6.90,"y":6.95,"c":"L"},{"x":7.11,"y":7.08,"c":"R"},{"x":6.95,"y":6.81,"c":"P"},{"x":6.87,"y":7.12,"c":"R"},
{"x":4.07,"y":5.97,"c":"B"},{"x":4.02,"y":6.11,"c":"R"},{"x":3.94,"y":5.87,"c":"B"},{"x":3.87,"y":6.04,"c":"R"},{"x":4.09,"y":5.81,"c":"P"},{"x":4.11,"y":6.17,"c":"B"},{"x":4.16,"y":5.93,"c":"R"},{"x":3.97,"y":6.01,"c":"L"},{"x":3.82,"y":5.90,"c":"B"},{"x":3.95,"y":6.21,"c":"R"},
{"x":5.93,"y":5.97,"c":"R"},{"x":5.98,"y":6.11,"c":"R"},{"x":6.06,"y":5.87,"c":"P"},{"x":6.13,"y":6.04,"c":"R"},{"x":5.91,"y":5.81,"c":"B"},{"x":5.89,"y":6.17,"c":"R"},{"x":5.84,"y":5.93,"c":"R"},{"x":6.03,"y":6.01,"c":"G"},{"x":6.18,"y":5.90,"c":"R"},{"x":6.05,"y":6.21,"c":"R"},{"x":5.99,"y":5.95,"c":"P"},{"x":5.80,"y":6.07,"c":"R"},{"x":5.96,"y":5.84,"c":"R"},{"x":6.16,"y":6.13,"c":"B"},{"x":6.09,"y":5.99,"c":"R"},{"x":6.01,"y":5.78,"c":"L"},{"x":5.90,"y":6.05,"c":"R"},{"x":6.11,"y":5.92,"c":"R"},{"x":5.95,"y":6.19,"c":"P"},{"x":5.87,"y":5.88,"c":"R"},
{"x":7.03,"y":6.07,"c":"R"},{"x":6.89,"y":6.02,"c":"R"},{"x":7.13,"y":5.94,"c":"P"},{"x":6.96,"y":5.87,"c":"R"},{"x":7.19,"y":6.09,"c":"B"},{"x":6.83,"y":6.11,"c":"R"},{"x":7.07,"y":6.16,"c":"R"},{"x":6.99,"y":5.97,"c":"G"},{"x":7.10,"y":5.82,"c":"R"},{"x":6.79,"y":5.95,"c":"R"},
{"x":2.97,"y":5.07,"c":"B"},{"x":3.11,"y":5.02,"c":"B"},{"x":2.87,"y":4.94,"c":"L"},{"x":3.04,"y":4.87,"c":"B"},{"x":2.81,"y":5.09,"c":"B"},{"x":3.17,"y":5.11,"c":"G"},{"x":2.93,"y":5.16,"c":"B"},{"x":3.01,"y":4.97,"c":"R"},
{"x":4.03,"y":4.93,"c":"B"},{"x":3.89,"y":4.98,"c":"B"},{"x":4.13,"y":5.06,"c":"L"},{"x":3.96,"y":5.13,"c":"B"},{"x":4.19,"y":4.91,"c":"B"},{"x":3.83,"y":4.89,"c":"G"},{"x":4.07,"y":4.84,"c":"B"},{"x":3.99,"y":5.03,"c":"R"},{"x":4.10,"y":5.18,"c":"B"},{"x":3.79,"y":5.05,"c":"B"},
{"x":4.97,"y":4.93,"c":"B"},{"x":5.11,"y":4.98,"c":"R"},{"x":4.87,"y":5.06,"c":"B"},{"x":5.04,"y":5.13,"c":"R"},{"x":4.81,"y":4.91,"c":"P"},{"x":5.17,"y":4.89,"c":"B"},{"x":4.93,"y":4.84,"c":"R"},{"x":5.01,"y":5.03,"c":"L"},
{"x":6.07,"y":5.03,"c":"R"},{"x":6.02,"y":4.89,"c":"R"},{"x":5.94,"y":5.13,"c":"P"},{"x":5.87,"y":4.96,"c":"R"},{"x":6.09,"y":5.19,"c":"B"},{"x":6.11,"y":4.83,"c":"R"},{"x":6.16,"y":5.07,"c":"R"},{"x":5.97,"y":4.99,"c":"G"},
{"x":0.93,"y":4.03,"c":"B"},{"x":0.98,"y":3.89,"c":"B"},{"x":1.06,"y":4.13,"c":"L"},{"x":1.13,"y":3.96,"c":"B"},{"x":0.91,"y":4.19,"c":"B"},{"x":0.89,"y":3.83,"c":"G"},{"x":0.84,"y":4.07,"c":"B"},{"x":1.03,"y":3.99,"c":"R"},{"x":1.18,"y":4.10,"c":"B"},{"x":1.05,"y":3.79,"c":"B"},{"x":0.99,"y":4.05,"c":"L"},{"x":0.80,"y":3.93,"c":"B"},{"x":0.96,"y":4.16,"c":"B"},{"x":1.16,"y":3.87,"c":"P"},{"x":1.09,"y":4.01,"c":"B"},{"x":1.01,"y":4.22,"c":"B"},{"x":0.90,"y":3.95,"c":"B"},{"x":1.11,"y":4.08,"c":"L"},{"x":0.95,"y":3.81,"c":"B"},{"x":0.87,"y":4.12,"c":"B"},
{"x":2.07,"y":3.97,"c":"B"},{"x":2.02,"y":4.11,"c":"B"},{"x":1.94,"y":3.87,"c":"L"},{"x":1.87,"y":4.04,"c":"B"},{"x":2.09,"y":3.81,"c":"B"},{"x":2.11,"y":4.17,"c":"G"},{"x":2.16,"y":3.93,"c":"B"},{"x":1.97,"y":4.01,"c":"R"},{"x":1.82,"y":3.90,"c":"B"},{"x":1.95,"y":4.21,"c":"B"},{"x":2.01,"y":3.95,"c":"L"},{"x":2.20,"y":4.07,"c":"B"},{"x":2.04,"y":3.84,"c":"B"},{"x":1.84,"y":4.13,"c":"P"},{"x":1.91,"y":3.99,"c":"B"},{"x":1.99,"y":3.78,"c":"B"},{"x":2.10,"y":4.05,"c":"B"},{"x":1.89,"y":3.92,"c":"L"},{"x":2.05,"y":4.19,"c":"B"},{"x":2.13,"y":3.88,"c":"B"},
{"x":2.93,"y":3.97,"c":"B"},{"x":2.98,"y":4.11,"c":"L"},{"x":3.06,"y":3.87,"c":"B"},{"x":3.13,"y":4.04,"c":"B"},{"x":2.91,"y":3.81,"c":"G"},{"x":2.89,"y":4.17,"c":"B"},{"x":2.84,"y":3.93,"c":"R"},{"x":3.03,"y":4.01,"c":"B"},{"x":3.18,"y":3.90,"c":"B"},{"x":3.05,"y":4.21,"c":"L"},{"x":2.99,"y":3.95,"c":"B"},{"x":2.80,"y":4.07,"c":"B"},{"x":2.96,"y":3.84,"c":"P"},{"x":3.16,"y":4.13,"c":"B"},{"x":3.09,"y":3.99,"c":"B"},{"x":3.01,"y":3.78,"c":"B"},{"x":2.90,"y":4.05,"c":"L"},{"x":3.11,"y":3.92,"c":"B"},{"x":2.95,"y":4.19,"c":"B"},{"x":2.87,"y":3.88,"c":"B"},
{"x":4.03,"y":4.07,"c":"B"},{"x":3.89,"y":4.02,"c":"B"},{"x":4.13,"y":3.94,"c":"L"},{"x":3.96,"y":3.87,"c":"B"},{"x":4.19,"y":4.09,"c":"B"},{"x":3.83,"y":4.11,"c":"G"},{"x":4.07,"y":4.16,"c":"B"},{"x":3.99,"y":3.97,"c":"R"},{"x":4.10,"y":3.82,"c":"B"},{"x":3.79,"y":3.95,"c":"B"},{"x":4.05,"y":4.01,"c":"L"},{"x":3.93,"y":4.20,"c":"B"},{"x":4.16,"y":4.04,"c":"B"},{"x":3.87,"y":3.84,"c":"P"},{"x":4.01,"y":3.91,"c":"B"},{"x":4.22,"y":3.99,"c":"B"},{"x":3.95,"y":4.10,"c":"B"},{"x":4.08,"y":3.89,"c":"L"},{"x":3.81,"y":4.05,"c":"B"},{"x":4.12,"y":4.13,"c":"B"},
{"x":4.97,"y":4.07,"c":"B"},{"x":5.11,"y":4.02,"c":"R"},{"x":4.87,"y":3.94,"c":"B"},{"x":5.04,"y":3.87,"c":"R"},{"x":4.81,"y":4.09,"c":"P"},{"x":5.17,"y":4.11,"c":"B"},{"x":4.93,"y":4.16,"c":"R"},{"x":5.01,"y":3.97,"c":"L"},{"x":4.90,"y":3.82,"c":"B"},{"x":5.21,"y":3.95,"c":"R"},
{"x":6.03,"y":3.93,"c":"R"},{"x":5.89,"y":3.98,"c":"R"},{"x":6.13,"y":4.06,"c":"P"},{"x":5.96,"y":4.13,"c":"R"},{"x":6.19,"y":3.91,"c":"B"},{"x":5.83,"y":3.89,"c":"R"},{"x":6.07,"y":3.84,"c":"R"},{"x":5.99,"y":4.03,"c":"G"},
{"x":0.97,"y":2.93,"c":"B"},{"x":1.11,"y":2.98,"c":"B"},{"x":0.87,"y":3.06,"c":"L"},{"x":1.04,"y":3.13,"c":"B"},{"x":0.81,"y":2.91,"c":"B"},{"x":1.17,"y":2.89,"c":"G"},
{"x":2.07,"y":3.03,"c":"B"},{"x":2.02,"y":2.89,"c":"B"},{"x":1.94,"y":3.13,"c":"L"},{"x":1.87,"y":2.96,"c":"B"},{"x":2.09,"y":3.19,"c":"B"},{"x":2.11,"y":2.83,"c":"G"},{"x":2.16,"y":3.07,"c":"B"},{"x":1.97,"y":2.99,"c":"R"},
{"x":2.93,"y":3.03,"c":"B"},{"x":2.98,"y":2.89,"c":"B"},{"x":3.06,"y":3.13,"c":"L"},{"x":3.13,"y":2.96,"c":"B"},{"x":2.91,"y":3.19,"c":"B"},{"x":2.89,"y":2.83,"c":"G"},{"x":2.84,"y":3.07,"c":"B"},{"x":3.03,"y":2.99,"c":"B"},
{"x":1.07,"y":1.97,"c":"B"},{"x":1.02,"y":2.11,"c":"B"},{"x":0.94,"y":1.87,"c":"L"},{"x":0.87,"y":2.04,"c":"B"},{"x":1.09,"y":1.81,"c":"B"},{"x":1.11,"y":2.17,"c":"G"},{"x":1.16,"y":1.93,"c":"B"},{"x":0.97,"y":2.01,"c":"R"},
{"x":2.93,"y":1.97,"c":"B"},{"x":2.98,"y":2.11,"c":"B"},{"x":3.06,"y":1.87,"c":"L"},{"x":3.13,"y":2.04,"c":"B"},{"x":2.91,"y":1.81,"c":"B"},{"x":2.89,"y":2.17,"c":"G"},{"x":2.84,"y":1.93,"c":"B"},{"x":3.03,"y":2.01,"c":"R"},{"x":3.18,"y":1.90,"c":"B"},{"x":3.05,"y":2.21,"c":"B"},{"x":2.99,"y":1.95,"c":"L"},{"x":2.80,"y":2.07,"c":"B"},
{"x":1.03,"y":1.07,"c":"B"},{"x":0.89,"y":1.02,"c":"B"},{"x":1.13,"y":0.94,"c":"L"},{"x":0.96,"y":0.87,"c":"B"},{"x":1.19,"y":1.09,"c":"B"},{"x":0.83,"y":1.11,"c":"G"},{"x":1.07,"y":1.16,"c":"B"},{"x":0.99,"y":0.97,"c":"R"},{"x":1.10,"y":0.82,"c":"B"},{"x":0.79,"y":0.95,"c":"B"},{"x":1.05,"y":1.01,"c":"L"},{"x":0.93,"y":1.20,"c":"B"},{"x":1.16,"y":1.04,"c":"B"},{"x":0.87,"y":0.84,"c":"P"},{"x":1.01,"y":0.91,"c":"B"},{"x":1.22,"y":0.99,"c":"B"},{"x":0.95,"y":1.10,"c":"B"},{"x":1.08,"y":0.89,"c":"L"},{"x":0.81,"y":1.05,"c":"B"},{"x":1.12,"y":1.13,"c":"B"}
]},
"mark": {"type": "circle", "size": 46, "opacity": 0.5},
"encoding": {
  "color": {"field": "c", "type": "nominal", "scale": {"domain": ["B", "L", "G", "P", "R"], "range": ["#2c22d4", "#5cc0f0", "#a8bcbc", "#ec8ca0", "#e62a2a"]}, "legend": null}
}
},
{
"data": {"values": [
{"x":3.28,"y":2.38,"a":3.12,"lev":"L1"},{"x":3.28,"y":2.38,"a":2.64,"lev":"L2"},{"x":3.28,"y":2.38,"a":2.29,"lev":"L3"},{"x":3.28,"y":2.38,"a":2.03,"lev":"L4"},{"x":3.28,"y":2.38,"a":1.78,"lev":"L5"},{"x":3.28,"y":2.38,"a":1.58,"lev":"L6"},{"x":3.28,"y":2.38,"a":1.37,"lev":"L7"},{"x":3.28,"y":2.38,"a":1.16,"lev":"L8"},{"x":3.28,"y":2.38,"a":0.92,"lev":"L9"},{"x":3.28,"y":2.38,"a":0.65,"lev":"L10"}
]},
"mark": {"type": "point", "shape": "M1,0C1,0.2264,0.5523,0.41,0,0.41C-0.5523,0.41,-1,0.2264,-1,0C-1,-0.2264,-0.5523,-0.41,0,-0.41C0.5523,-0.41,1,-0.2264,1,0Z", "filled": false, "strokeWidth": 2.5, "opacity": 1},
"encoding": {
  "size": {"field": "a", "type": "quantitative", "scale": {"type": "pow", "exponent": 2, "domain": [0, 1], "range": [0, 21904]}, "legend": null},
  "color": {"field": "lev", "type": "nominal", "scale": {"domain": ["L1","L2","L3","L4","L5","L6","L7","L8","L9","L10"], "range": ["#3e26a8", "#4534c8", "#4550e0", "#3a6ff0", "#2a8cea", "#17a5d8", "#1fb5b2", "#8cc456", "#eaaa32", "#f7d22a"]}, "legend": null}
}
},
{
"data": {"values": [
{"x":5.27,"y":7.05,"k":"Cluster center in GMM"},
{"x":5.01,"y":6.03,"k":"Cluster center in GMM"},
{"x":4.35,"y":5.03,"k":"Cluster center in GMM"},
{"x":3.85,"y":4.02,"k":"Cluster center in GMM"},
{"x":3.30,"y":2.35,"k":"Cluster center in GMM"},
{"x":1.00,"y":1.00,"k":"Cluster center in GMM"},
{"x":3.43,"y":4.08,"k":"Democrat party position"},
{"x":5.22,"y":5.75,"k":"Republican party position"}
]},
"mark": {"type": "point", "filled": true, "strokeWidth": 3, "size": 1700, "opacity": 1},
"encoding": {
  "shape": {"field": "k", "type": "nominal", "scale": {"domain": ["Cluster center in GMM", "Democrat party position", "Republican party position"], "range": ["M0,-1L0.225,-0.309L0.951,-0.309L0.363,0.118L0.588,0.809L0,0.382L-0.588,0.809L-0.363,0.118L-0.951,-0.309L-0.225,-0.309Z", "M0,-0.62L0.78,0.62L-0.78,0.62Z", "M0,-0.62L0.78,0.62L-0.78,0.62Z"]},
    "legend": {"title": null, "orient": "none", "legendX": 272, "legendY": 360, "padding": 6, "fillColor": "white", "strokeColor": "#6e6e6e", "labelFont": "Liberation Serif", "labelFontSize": 24, "labelColor": "black", "labelLimit": 400, "symbolSize": 1700, "symbolStrokeWidth": 3, "clipHeight": 27, "rowPadding": 0, "labelOffset": 6}},
  "fill": {"field": "k", "type": "nominal", "scale": {"domain": ["Cluster center in GMM", "Democrat party position", "Republican party position"], "range": ["white", "#00e5ee", "#f22a2a"]},
    "legend": {"title": null, "orient": "none", "legendX": 272, "legendY": 360, "padding": 6, "fillColor": "white", "strokeColor": "#6e6e6e", "labelFont": "Liberation Serif", "labelFontSize": 24, "labelColor": "black", "labelLimit": 400, "symbolSize": 1700, "symbolStrokeWidth": 3, "clipHeight": 27, "rowPadding": 0, "labelOffset": 6}},
  "stroke": {"field": "k", "type": "nominal", "scale": {"domain": ["Cluster center in GMM", "Democrat party position", "Republican party position"], "range": ["black", "black", "black"]},
    "legend": {"title": null, "orient": "none", "legendX": 272, "legendY": 360, "padding": 6, "fillColor": "white", "strokeColor": "#6e6e6e", "labelFont": "Liberation Serif", "labelFontSize": 24, "labelColor": "black", "labelLimit": 400, "symbolSize": 1700, "symbolStrokeWidth": 3, "clipHeight": 27, "rowPadding": 0, "labelOffset": 6}}
}
}
],
"resolve": {"scale": {"color": "independent"}}
}
